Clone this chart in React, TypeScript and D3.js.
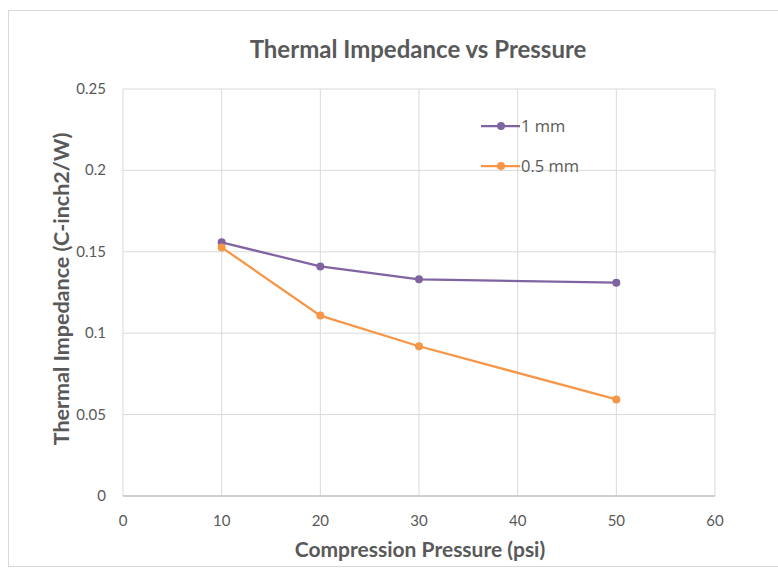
import React from "react";
import * as d3 from "d3";

const pressures = [10, 20, 30, 50];
const series1mm = [0.1558, 0.141, 0.1331, 0.131];
const series05mm = [0.1527, 0.1108, 0.092, 0.0593];
const seriesNames = ["1 mm", "0.5 mm"];
const seriesColors = ["#8064A2", "#F79646"];
const xTicks = [0, 10, 20, 30, 40, 50, 60];
const yTicks = [0, 0.05, 0.1, 0.15, 0.2, 0.25];

const W = 778;
const H = 569;

export default function App() {
  const x = d3.scaleLinear().domain([0, 60]).range([123, 715]);
  const y = d3.scaleLinear().domain([0, 0.25]).range([496, 89]);
  const allSeries = [series1mm, series05mm];
  const line = d3
    .line<[number, number]>()
    .x((d) => x(d[0]))
    .y((d) => y(d[1]));
  const font = "Lato, 'Open Sans', sans-serif";
  const txt = "#595959";

  return (
    <svg
      width={W}
      height={H}
      style={{ position: "absolute", left: 0, top: 0, background: "#fff" }}
    >
      <rect x={8.5} y={10.5} width={780} height={556} fill="#fff" stroke="#d9d9d9" />
      <text
        x={418}
        y={58}
        textAnchor="middle"
        fontFamily={font}
        fontWeight="bold"
        fontSize={24}
        fill={txt}
      >
        Thermal Impedance vs Pressure
      </text>
      {yTicks.map((t) => (
        <g key={"y" + t}>
          <line x1={x(0)} x2={x(60)} y1={y(t)} y2={y(t)} stroke={t === 0 ? "#bfbfbf" : "#d9d9d9"} strokeWidth={1} />
          <text x={106} y={y(t) + 5} textAnchor="end" fontFamily={font} fontSize={15} fill={txt}>
            {String(t)}
          </text>
        </g>
      ))}
      {xTicks.map((t) => (
        <g key={"x" + t}>
          <line x1={x(t)} x2={x(t)} y1={y(0.25)} y2={y(0)} stroke="#d9d9d9" strokeWidth={1} />
          <text x={x(t)} y={526} textAnchor="middle" fontFamily={font} fontSize={15} fill={txt}>
            {String(t)}
          </text>
        </g>
      ))}
      <line x1={x(0)} x2={x(60)} y1={y(0)} y2={y(0)} stroke="#bfbfbf" strokeWidth={1} />
      <text
        x={420}
        y={557}
        textAnchor="middle"
        fontFamily={font}
        fontWeight="bold"
        fontSize={21}
        fill={txt}
      >
        Compression Pressure (psi)
      </text>
      <text
        transform={`translate(69,289) rotate(-90)`}
        textAnchor="middle"
        fontFamily={font}
        fontWeight="bold"
        fontSize={21.5}
        fill={txt}
      >
        Thermal Impedance (C-inch2/W)
      </text>
      {allSeries.map((s, i) => {
        const pts = pressures.map((p, j) => [p, s[j]] as [number, number]);
        return (
          <g key={"s" + i}>
            <path d={line(pts) || ""} fill="none" stroke={seriesColors[i]} strokeWidth={2.25} />
            {pts.map((d, j) => (
              <circle key={j} cx={x(d[0])} cy={y(d[1])} r={4} fill={seriesColors[i]} />
            ))}
          </g>
        );
      })}
      {seriesNames.map((n, i) => {
        const ly = 126 + i * 40;
        return (
          <g key={"l" + i}>
            <line x1={481} x2={520} y1={ly} y2={ly} stroke={seriesColors[i]} strokeWidth={2.25} />
            <circle cx={501} cy={ly} r={4} fill={seriesColors[i]} />
            <text x={521} y={ly + 6} fontFamily="'Open Sans', sans-serif" fontSize={16.5} fill={txt}>
              {n}
            </text>
          </g>
        );
      })}
    </svg>
  );
}
